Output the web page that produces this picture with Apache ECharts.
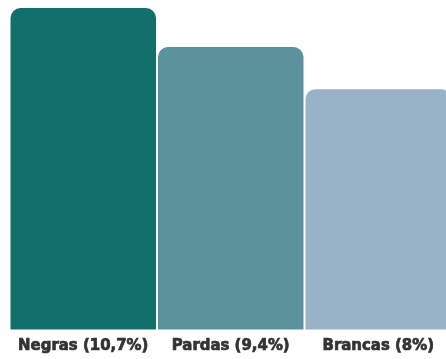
<!DOCTYPE html>
<html><head><meta charset="utf-8">
<script src="https://cdn.jsdelivr.net/npm/echarts@6/dist/echarts.min.js"></script>
<style>html,body{margin:0;padding:0;background:#fff}#c{width:446px;height:359px}</style>
</head><body><div id="c"></div>
<script>
const categories = ['Negras (10,7%)', 'Pardas (9,4%)', 'Brancas (8%)'];
const values = [10.7, 9.4, 8];
const colors = ['#12706b', '#5b929c', '#98b2c7'];

// pick the most condensed installed font and size the labels to the reference width
const ctx = document.createElement('canvas').getContext('2d');
function w(font) { ctx.font = font; return ctx.measureText(categories[0]).width; }
const candidates = ['Liberation Sans Narrow', 'DejaVu Sans Condensed', 'Roboto Condensed', 'Liberation Sans'];
let family = 'sans-serif';
for (const f of candidates) {
  if (w('bold 40px "' + f + '", monospace') !== w('bold 40px monospace')) { family = '"' + f + '"'; break; }
}
const base = w('bold 40px ' + family);
const fontSize = Math.min(24, Math.floor(40 * 131 / base * 10) / 10);

const chart = echarts.init(document.getElementById('c'), null, {renderer: 'canvas'});
chart.setOption({
  animation: false,
  grid: {left: 9.5, top: 8, width: 442.5, bottom: 29.5, outerBoundsMode: 'none', containLabel: false},
  xAxis: {
    type: 'category', data: categories,
    axisLine: {show: false}, axisTick: {show: false},
    axisLabel: {
      margin: 4, color: '#333333', fontSize: fontSize, fontWeight: 'bold',
      fontFamily: family, interval: 0, verticalAlign: 'top', lineHeight: 25,
      textBorderColor: '#333333', textBorderWidth: 0.7
    }
  },
  yAxis: {type: 'value', min: 0, max: 10.7, show: false, splitLine: {show: false}},
  series: [{
    type: 'bar', barWidth: 145.5,
    data: values.map((v, i) => ({value: v, itemStyle: {color: colors[i]}})),
    itemStyle: {borderRadius: [10, 10, 0, 0]}
  }]
});
</script></body></html>
